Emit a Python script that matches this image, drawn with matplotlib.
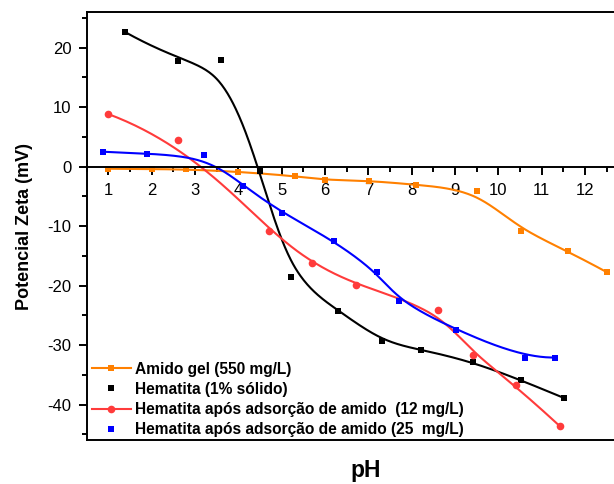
import numpy as np
import matplotlib
matplotlib.use("Agg")
import matplotlib.pyplot as plt
from matplotlib.legend_handler import HandlerTuple

plt.rcParams['font.family'] = ['Liberation Sans', 'DejaVu Sans']
plt.rcParams['axes.unicode_minus'] = False

# dados
ph_amido = [0.99, 2.0, 2.8, 4.0, 5.31, 6.0, 7.01, 8.11, 9.51, 10.51, 11.61, 12.51]
zeta_amido = [-0.37, -0.42, -0.47, -0.87, -1.6, -2.27, -2.38, -3.06, -4.06, -10.9, -14.2, -17.8]

ph_hem = [1.39, 2.6, 3.6, 4.5, 5.21, 6.31, 7.31, 8.21, 9.42, 10.52, 11.51]
zeta_hem = [22.6, 17.7, 17.9, -0.76, -18.6, -24.2, -29.4, -30.8, -32.8, -35.9, -38.9]

ph_h12 = [1.0, 2.6, 4.71, 5.7, 6.71, 8.61, 9.42, 10.4, 11.41]
zeta_h12 = [8.82, 4.5, -10.8, -16.2, -19.9, -24.1, -31.7, -36.8, -43.6]

ph_h25 = [0.88, 1.9, 3.2, 4.11, 5.01, 6.21, 7.2, 7.71, 9.01, 10.62, 11.3]
zeta_h25 = [2.49, 2.15, 1.98, -3.2, -7.76, -12.5, -17.8, -22.6, -27.5, -32.2, -32.1]

labels = ['Amido gel (550 mg/L)',
          'Hematita (1% sólido)',
          'Hematita após adsorção de amido  (12 mg/L)',
          'Hematita após adsorção de amido (25  mg/L)']


def bspline(xs, ys, k=3, num=400):
    # curva B-spline (pontos como controle), tipo Origin
    P = np.column_stack([xs, ys])
    n = len(P)
    knots = np.concatenate([np.zeros(k), np.linspace(0, 1, n - k + 1), np.ones(k)])
    u = np.linspace(0, 1, num)
    u[-1] -= 1e-9
    N = np.zeros((num, len(knots) - 1))
    for i in range(len(knots) - 1):
        N[:, i] = (knots[i] <= u) & (u < knots[i + 1])
    for d in range(1, k + 1):
        Nn = np.zeros((num, len(knots) - 1 - d))
        for i in range(len(knots) - 1 - d):
            a = knots[i + d] - knots[i]
            b = knots[i + d + 1] - knots[i + 1]
            t1 = (u - knots[i]) / a * N[:, i] if a > 0 else 0
            t2 = (knots[i + d + 1] - u) / b * N[:, i + 1] if b > 0 else 0
            Nn[:, i] = t1 + t2
        N = Nn
    c = N @ P
    return c[:, 0], c[:, 1]


fig = plt.figure(figsize=(6.14, 4.84), dpi=100)
ax = fig.add_axes([0.141, 0.0905, 0.8826, 0.885])

series = [
    (ph_amido, zeta_amido, '#FF8000', 's', 4.0),
    (ph_hem, zeta_hem, 'black', 's', 3.8),
    (ph_h12, zeta_h12, '#FF3B3B', 'o', 5.5),
    (ph_h25, zeta_h25, '#0000FF', 's', 4.0),
]
handles = []
for xs, ys, cor, mk, ms in series:
    cx, cy = bspline(xs, ys)
    ln, = ax.plot(cx, cy, color=cor, lw=1.5)
    pt, = ax.plot(xs, ys, mk, color=cor, ms=ms, mew=0)
    handles.append((ln, pt))

leg_handles = [handles[0], handles[1][1], handles[2], handles[3][1]]
leg = ax.legend(leg_handles, labels, handler_map={tuple: HandlerTuple(ndivide=1)},
                loc='lower left', bbox_to_anchor=(0.005, 0.0), frameon=False,
                numpoints=1, handlelength=2.45, handletextpad=0.3,
                labelspacing=0.33, borderpad=0.2, borderaxespad=0,
                prop={'weight': 'bold', 'size': 11.2})

ax.set_xlim(0.5, 13)
ax.set_ylim(-46, 26)

ax.spines['right'].set_visible(False)
ax.spines['bottom'].set_position(('data', 0))
for s in ['left', 'top', 'bottom']:
    ax.spines[s].set_linewidth(1.4)
ax.plot([0, 1], [0, 0], transform=ax.transAxes, color='black', lw=1.4, clip_on=False)

ax.set_xticks(range(1, 13))
ax.set_xticks(np.arange(0.5, 13, 1.0), minor=True)
ax.set_yticks(range(-40, 21, 10))
ax.set_yticks(range(-45, 26, 10), minor=True)
ax.tick_params(which='major', length=6, width=1.4, labelsize=12, direction='out', pad=6)
ax.tick_params(which='minor', length=3.5, width=1.4, direction='out')
ax.tick_params(axis='y', which='major', pad=5)

ax.set_ylabel('Potencial Zeta (mV)', fontsize=13, fontweight='bold', labelpad=10)
fig.text(0.596, 0.004, 'pH', fontsize=16.5, fontweight='bold', ha='center', va='bottom')

fig.savefig('out.png', dpi=100)
